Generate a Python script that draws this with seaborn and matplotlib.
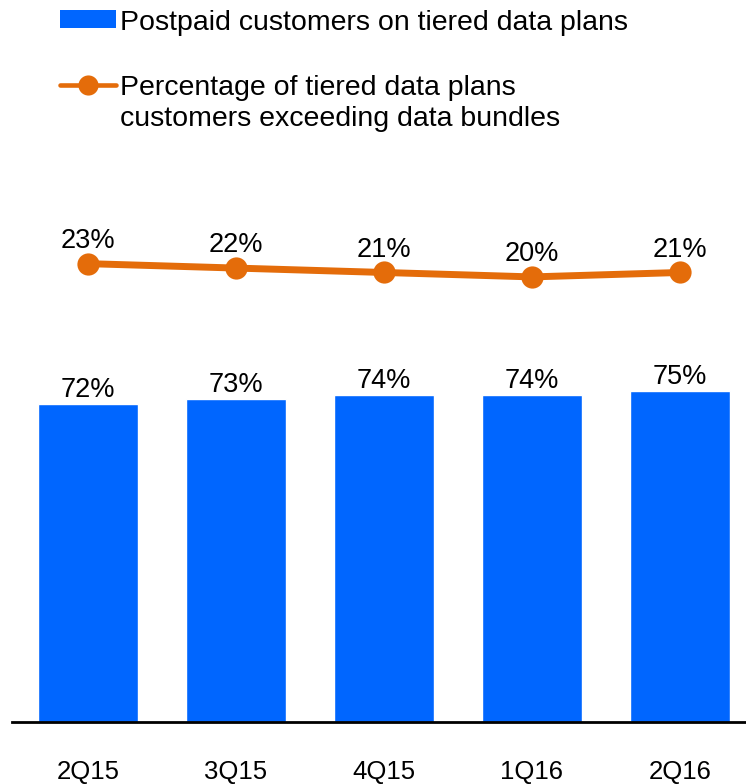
import matplotlib
matplotlib.use("Agg")
import matplotlib.pyplot as plt
import seaborn as sns
import pandas as pd
import numpy as np
from matplotlib.patches import Patch
from matplotlib.lines import Line2D

quarters = ["2Q15", "3Q15", "4Q15", "1Q16", "2Q16"]
tiered_share = [72, 73, 74, 74, 75]
exceeding_share = [23, 22, 21, 20, 21]
bar_label = "Postpaid customers on tiered data plans"
line_label = "Percentage of tiered data plans\ncustomers exceeding data bundles"

BLUE = "#0066FF"
ORANGE = "#E46C0A"

sns.set_theme(style="white")
plt.rcParams['font.family'] = ['Liberation Sans', 'DejaVu Sans']
plt.rcParams['text.color'] = 'black'
plt.rcParams['xtick.color'] = 'black'

W, H = 746, 784
fig = plt.figure(figsize=(W / 100, H / 100), dpi=100)
top_px, base_px, px_per = 160, 722, 4.42
ax = fig.add_axes([12 / W, (H - base_px) / H, (W - 12) / W, (base_px - top_px) / H])

df = pd.DataFrame({"quarter": quarters, "tiered": tiered_share, "exceed": exceeding_share})
sns.barplot(data=df, x="quarter", y="tiered", color=BLUE, saturation=1,
            width=0.676, ax=ax)
ymax = (base_px - top_px) / px_per
ax.set_ylim(0, ymax)

ax2 = ax.twinx()
xs = np.arange(len(quarters))
sns.lineplot(x=xs, y=exceeding_share, color=ORANGE, linewidth=5, marker="o",
             markersize=16, markeredgewidth=0, ax=ax2)
off = 80.7
ax2.set_ylim(-off, ymax - off)

ax.set_xlim(-0.5135, 4.446)

for i, v in enumerate(tiered_share):
    ax.annotate(f"{v}%", (i, v), xytext=(0, 5), textcoords="offset points",
                ha="center", va="baseline", fontsize=19.5, color="black")
for i, v in enumerate(exceeding_share):
    ax2.annotate(f"{v}%", (i, v), xytext=(0, 11.5), textcoords="offset points",
                 ha="center", va="baseline", fontsize=19.5, color="black")

for a in (ax, ax2):
    for s in a.spines.values():
        s.set_visible(False)
    a.set_yticks([])
    a.set_ylabel("")
ax.spines["bottom"].set_visible(True)
ax.spines["bottom"].set_color("black")
ax.spines["bottom"].set_linewidth(2.0)
ax.set_xlabel("")
ax.tick_params(axis="x", length=0, pad=27, labelsize=18.5, colors="black")

handles = [Patch(facecolor=BLUE, edgecolor="none"),
           Line2D([], [], color=ORANGE, linewidth=3.3, marker="o", markersize=14.5,
                  markeredgewidth=0)]
leg = fig.legend(handles, [bar_label, line_label], loc="upper left",
                 bbox_to_anchor=(60 / W, 1 - 10 / H), frameon=False,
                 fontsize=20.5, handlelength=1.97, handleheight=0.6,
                 handletextpad=0.15, labelspacing=1.37, borderpad=0,
                 borderaxespad=0)
for t in leg.get_texts():
    t.set_linespacing(1.24)
    t.set_color("black")
for col in leg._legend_handle_box.get_children():
    for item in col.get_children():
        item.align = "top"

fig.savefig("out.png", dpi=100)
